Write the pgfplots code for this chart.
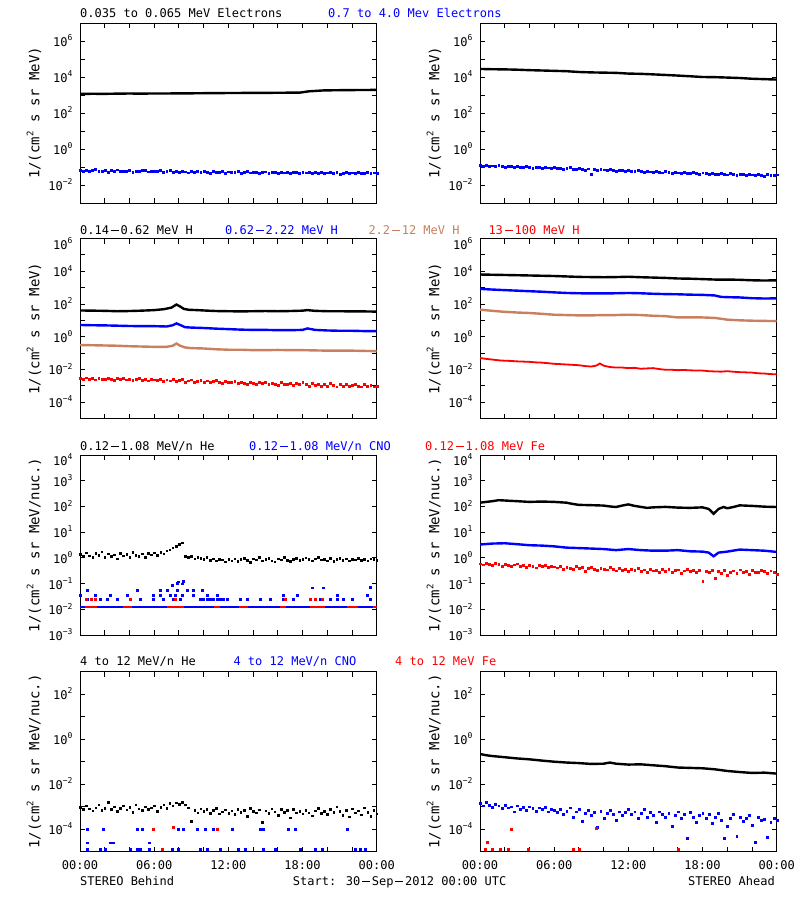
\documentclass[border=0pt]{standalone}
\usepackage{fontspec}
\setmainfont{DejaVu Sans Mono}
\setsansfont{DejaVu Sans Mono}
\usepackage{pgfplots}
\pgfplotsset{compat=1.18}
\definecolor{idlblue}{RGB}{0,0,255}
\definecolor{idlred}{RGB}{255,0,0}
\definecolor{idltan}{RGB}{200,128,96}
\newcommand\ttl{\fontsize{12}{14}\selectfont}
\newcommand\dash{\kern1.8pt\rule[3.6pt]{8pt}{0.9pt}\kern1.8pt}
\newcommand\EE[1]{10\raisebox{5.7pt}{\fontsize{8}{8}\selectfont #1}}
\newcommand\ET[1]{\raisebox{-5pt}{\EE{#1}}}
\newcommand\sq{\raisebox{6pt}{\fontsize{9}{9}\selectfont 2}}
\pgfplotsset{
  panel/.style={
    scale only axis, width=296.7pt, height=180pt, anchor=north west,
    xmin=0, xmax=24,
    axis line style={line width=0.9pt},
    xtick={0,2,...,24}, xticklabels={},
    tick align=inside, major tick length=5pt,
    tick style={line width=0.9pt, black},
    yminorticks=false, xminorticks=false,
    tick label style={font=\ttl},
    yticklabel style={anchor=base east, yshift=-5.5pt, xshift=-4pt},
    xticklabel style={anchor=base, yshift=-18.3pt},
    ylabel style={at={(axis description cs:-0.155,0.5)}, anchor=center, font=\fontsize{14}{16}\selectfont},
  },
  ln/.style={line width=2.4pt, mark=none},
  dots/.style={only marks, mark=square*, mark size=0.95pt, mark options={line width=0.1pt}},
  sdots/.style={only marks, mark=square*, mark size=0.8pt, mark options={line width=0.1pt}},
  table/q/.style={x expr=\coordindex*0.25, y index=0, header=false, row sep=\\},
}
\begin{document}
\begin{tikzpicture}
\useasboundingbox (0,0) rectangle (800pt,-900pt);

% ---------------- Row 1 left: STEREO Behind electrons
\begin{semilogyaxis}[panel, at={(80pt,-23pt)}, ymin=1e-3, ymax=1e7,
  ytick={1e-3,1e-2,1e-1,1,10,100,1e3,1e4,1e5,1e6,1e7},
  yticklabels={,\EE{−2},,\EE{0},,\EE{2},,\EE{4},,\EE{6},},
  ylabel={1/(cm\sq{} s sr MeV)}]
\addplot[ln, black] coordinates {(0,1150)(1,1170)(2,1160)(3,1190)(4,1210)(5,1190)(6,1220)(7,1210)(8,1240)(9,1240)(10,1260)(11,1270)(12,1290)(13,1300)(14,1310)(15,1320)(16,1330)(17,1350)(17.8,1360)(18.5,1600)(19.7,1800)(21,1850)(22,1880)(23,1900)(24,1920)};
\addplot[dots, idlblue] table[q] {
0.068\\0.062\\0.071\\0.058\\0.066\\0.074\\0.060\\0.063\\0.069\\0.055\\0.064\\0.061\\0.072\\0.057\\0.063\\0.059\\0.066\\0.052\\0.061\\0.058\\0.064\\0.070\\0.056\\0.060\\0.062\\
0.057\\0.065\\0.053\\0.060\\0.068\\0.055\\0.059\\0.051\\0.062\\0.056\\0.049\\0.058\\0.054\\0.061\\0.050\\0.057\\0.053\\0.048\\0.059\\0.055\\0.052\\0.060\\0.047\\0.056\\
0.054\\0.050\\0.057\\0.046\\0.053\\0.058\\0.049\\0.052\\0.055\\0.045\\0.051\\0.056\\0.048\\0.053\\0.050\\0.044\\0.054\\0.049\\0.052\\0.047\\0.055\\0.050\\0.046\\0.051\\
0.049\\0.053\\0.045\\0.050\\0.047\\0.055\\0.044\\0.049\\0.052\\0.046\\0.050\\0.043\\0.048\\0.053\\0.045\\0.049\\0.047\\0.051\\0.044\\0.048\\0.052\\0.046\\0.049\\0.047\\
};
\end{semilogyaxis}

% ---------------- Row 1 right: STEREO Ahead electrons
\begin{semilogyaxis}[panel, at={(480pt,-23pt)}, ymin=1e-3, ymax=1e7,
  ytick={1e-3,1e-2,1e-1,1,10,100,1e3,1e4,1e5,1e6,1e7},
  yticklabels={,\EE{−2},,\EE{0},,\EE{2},,\EE{4},,\EE{6},},
  ylabel={1/(cm\sq{} s sr MeV)}]
\addplot[ln, black] coordinates {(0,28000)(1,27000)(2,26500)(3,25500)(4,24000)(5,23000)(6,22000)(7,21000)(8,19000)(9,18000)(10,17500)(11,17000)(12,15500)(13,15000)(14,14000)(15,13000)(16,12000)(17,11000)(18,10000)(19,9800)(20,9300)(21,8800)(22,8000)(23,7600)(24,7200)};
\addplot[dots, idlblue] table[q] {
0.125\\0.118\\0.130\\0.112\\0.121\\0.108\\0.126\\0.115\\0.104\\0.119\\0.110\\0.098\\0.113\\0.105\\0.095\\0.109\\0.101\\0.092\\0.104\\0.097\\0.088\\0.100\\0.093\\0.085\\0.094\\
0.083\\0.091\\0.078\\0.086\\0.094\\0.080\\0.074\\0.085\\0.077\\0.071\\0.082\\0.040\\0.076\\0.069\\0.079\\0.072\\0.066\\0.075\\0.068\\0.063\\0.071\\0.065\\0.060\\0.068\\
0.062\\0.057\\0.066\\0.059\\0.054\\0.062\\0.056\\0.051\\0.059\\0.053\\0.049\\0.057\\0.051\\0.047\\0.054\\0.049\\0.045\\0.052\\0.048\\0.044\\0.050\\0.046\\0.042\\0.049\\
0.045\\0.041\\0.048\\0.043\\0.039\\0.046\\0.042\\0.038\\0.044\\0.040\\0.036\\0.043\\0.039\\0.035\\0.042\\0.038\\0.034\\0.041\\0.037\\0.033\\0.040\\0.036\\0.034\\0.038\\
};
\end{semilogyaxis}

% ---------------- Row 2 left: Behind protons
\begin{semilogyaxis}[panel, at={(80pt,-238.5pt)}, ymin=1e-5, ymax=1e6,
  ytick={1e-5,1e-4,1e-3,1e-2,1e-1,1,10,100,1e3,1e4,1e5,1e6},
  yticklabels={,\EE{−4},,\EE{−2},,\EE{0},,\EE{2},,\EE{4},,\ET{6}},
  ylabel={1/(cm\sq{} s sr MeV)}]
\addplot[ln, black] coordinates {(0,40)(1,39)(2,38)(3,36)(4,37)(5,39)(6,42)(6.8,48)(7.4,60)(7.8,92)(8.1,70)(8.4,50)(8.8,44)(9.5,42)(10,40)(11,37)(12,36)(13,35)(14,36)(15,37)(16,36)(17,37)(18,39)(18.4,42)(19,38)(20,36)(21,36)(22,35)(23,35)(24,34)};
\addplot[ln, idlblue] coordinates {(0,5.2)(1,5.0)(2,4.9)(3,4.7)(4,4.5)(5,4.4)(6,4.4)(7,4.2)(7.5,5.0)(7.8,6.5)(8.1,5.2)(8.5,3.8)(9,3.6)(10,3.4)(11,3.1)(12,2.9)(13,2.7)(14,2.6)(15,2.6)(16,2.5)(17,2.5)(18,2.6)(18.4,3.2)(19,2.6)(20,2.4)(21,2.3)(22,2.3)(23,2.2)(24,2.2)};
\addplot[ln, idltan] coordinates {(0,0.31)(1,0.30)(2,0.29)(3,0.28)(4,0.26)(5,0.25)(6,0.24)(7,0.24)(7.5,0.28)(7.8,0.38)(8.1,0.28)(8.5,0.22)(9,0.20)(10,0.19)(11,0.17)(12,0.16)(13,0.16)(14,0.15)(15,0.15)(16,0.155)(17,0.15)(18,0.15)(19,0.145)(20,0.14)(21,0.14)(22,0.14)(23,0.135)(24,0.13)};
\addplot[dots, idlred] table[q] {
0.0030\\0.0026\\0.0032\\0.0027\\0.0029\\0.0024\\0.0031\\0.0027\\0.0025\\0.0030\\0.0026\\0.0023\\0.0028\\0.0025\\0.0031\\0.0024\\0.0027\\0.0022\\0.0026\\0.0029\\0.0023\\0.0026\\0.0021\\0.0025\\0.0024\\
0.0022\\0.0026\\0.0020\\0.0024\\0.0021\\0.0025\\0.0019\\0.0023\\0.0026\\0.0018\\0.0021\\0.0024\\0.0017\\0.0020\\0.0023\\0.0018\\0.0021\\0.0016\\0.0019\\0.0022\\0.0017\\0.0015\\0.0019\\0.0017\\
0.0016\\0.0019\\0.0014\\0.0017\\0.0015\\0.0013\\0.0018\\0.0015\\0.0012\\0.0016\\0.0014\\0.0017\\0.0012\\0.0015\\0.0013\\0.0011\\0.0016\\0.0013\\0.0012\\0.0015\\0.0011\\0.0014\\0.0012\\0.0016\\
0.0012\\0.0010\\0.0014\\0.0011\\0.0013\\0.00095\\0.0012\\0.0010\\0.0014\\0.0011\\0.0009\\0.0013\\0.0010\\0.0012\\0.00095\\0.0011\\0.0013\\0.0010\\0.0009\\0.0012\\0.0010\\0.0011\\0.0009\\0.0010\\
};
\end{semilogyaxis}

% ---------------- Row 2 right: Ahead protons
\begin{semilogyaxis}[panel, at={(480pt,-238.5pt)}, ymin=1e-5, ymax=1e6,
  ytick={1e-5,1e-4,1e-3,1e-2,1e-1,1,10,100,1e3,1e4,1e5,1e6},
  yticklabels={,\EE{−4},,\EE{−2},,\EE{0},,\EE{2},,\EE{4},,\ET{6}},
  ylabel={1/(cm\sq{} s sr MeV)}]
\addplot[ln, black] coordinates {(0,6300)(1,6100)(2,5900)(3,5700)(4,5500)(5,5300)(6,5100)(7,4800)(8,4500)(9,4400)(10,4300)(11,4400)(12,4600)(13,4300)(14,4100)(15,3900)(16,3600)(17,3500)(18,3300)(19,3100)(20,3100)(21,3000)(22,2800)(23,2700)(24,2800)};
\addplot[ln, idlblue] coordinates {(0,830)(1,760)(2,700)(3,650)(4,600)(5,560)(6,510)(7,470)(8,450)(9,440)(10,440)(11,450)(12,470)(13,450)(14,420)(15,400)(16,390)(17,370)(18,360)(19,330)(19.5,270)(20,260)(21,250)(22,225)(23,215)(24,220)};
\addplot[ln, idltan] coordinates {(0,45)(1,38)(2,33)(3,30)(4,28)(5,25)(6,22)(7,21)(8,20)(9,20)(10,21)(11,21)(12,22)(13,21)(14,19)(15,18)(16,15)(17,15)(18,15)(19,14)(20,11)(21,10)(22,9.5)(23,9.2)(24,9)};
\addplot[line width=1.8pt, idlred] coordinates {(0,0.050)(0.5,0.044)(1,0.040)(1.5,0.036)(2,0.034)(2.5,0.033)(3,0.031)(3.5,0.030)(4,0.029)(4.5,0.027)(5,0.026)(5.5,0.024)(6,0.022)(6.5,0.021)(7,0.020)(7.5,0.019)(8,0.018)(8.5,0.016)(9,0.015)(9.4,0.017)(9.7,0.023)(10,0.017)(10.5,0.014)(11,0.013)(11.5,0.013)(12,0.012)(12.5,0.0125)(13,0.011)(13.5,0.0115)(14,0.012)(14.5,0.0105)(15,0.0095)(15.5,0.0095)(16,0.009)(16.5,0.0092)(17,0.0088)(17.5,0.0085)(18,0.0085)(18.5,0.0078)(19,0.0075)(19.5,0.0073)(20,0.0078)(20.5,0.0072)(21,0.0068)(21.5,0.0066)(22,0.0064)(22.5,0.0058)(23,0.0056)(23.5,0.0052)(24,0.0050)};
\end{semilogyaxis}

% ---------------- Row 3 left: Behind 0.12-1.08 MeV/n ions
\begin{semilogyaxis}[panel, at={(80pt,-455pt)}, ymin=1e-3, ymax=1e4,
  ytick={1e-3,1e-2,1e-1,1,10,100,1e3,1e4},
  yticklabels={\EE{−3},\EE{−2},\EE{−1},\EE{0},\EE{1},\EE{2},\EE{3},\ET{4}},
  ylabel={1/(cm\sq{} s sr MeV/nuc.)}]
\addplot[line width=2.6pt, idlblue] coordinates {(0,0.0123)(24,0.0123)};
\addplot[line width=2.6pt, idlred] coordinates {(0.4,0.0123)(1.35,0.0123)};
\addplot[line width=2.6pt, idlred] coordinates {(3.5,0.0123)(4.2,0.0123)};
\addplot[line width=2.6pt, idlred] coordinates {(7.0,0.0123)(8.4,0.0123)};
\addplot[line width=2.6pt, idlred] coordinates {(10.8,0.0123)(11.3,0.0123)};
\addplot[line width=2.6pt, idlred] coordinates {(12.9,0.0123)(13.6,0.0123)};
\addplot[line width=2.6pt, idlred] coordinates {(16.2,0.0123)(16.7,0.0123)};
\addplot[line width=2.6pt, idlred] coordinates {(18.6,0.0123)(19.8,0.0123)};
\addplot[line width=2.6pt, idlred] coordinates {(21.6,0.0123)(22.5,0.0123)};
\addplot[line width=2.6pt, idlred] coordinates {(23.7,0.0123)(24,0.0123)};
\addplot[dots, idlblue] coordinates {(0.54,0.026)(1.62,0.026)(2.16,0.026)(2.97,0.026)(4.04,0.026)(4.85,0.026)(5.93,0.026)(6.74,0.026)(7.55,0.026)(8.09,0.026)(9.71,0.026)(9.98,0.026)(10.25,0.026)(10.52,0.026)(10.79,0.026)(11.06,0.026)(11.33,0.026)(11.6,0.026)(11.87,0.026)(12.94,0.026)(13.49,0.026)(14.56,0.026)(15.37,0.026)(16.45,0.026)(17.26,0.026)(18.61,0.026)(19.42,0.026)(20.23,0.026)(20.77,0.026)(21.31,0.026)(21.98,0.026)(23.46,0.026)
(0,0.036)(1.21,0.036)(2.43,0.036)(3.78,0.036)(5.93,0.036)(6.47,0.036)(7.28,0.036)(7.69,0.036)(8.23,0.036)(9.17,0.036)(10.25,0.036)(11.06,0.036)(16.45,0.036)(17.53,0.036)(20.77,0.036)(23.19,0.036)
(0.54,0.055)(4.58,0.055)(6.47,0.055)(7.01,0.055)(7.82,0.055)(8.63,0.055)(9.17,0.055)(9.84,0.055)
(7.42,0.09)(7.82,0.105)(8.23,0.1)(7.96,0.12)(8.36,0.125)(18.74,0.07)(19.69,0.07)(23.46,0.072)};
\addplot[dots, idlred] coordinates {(0.5,0.026)(0.9,0.026)(1.2,0.026)(4.04,0.026)(7.69,0.026)(16.59,0.026)(18.61,0.026)(19.0,0.026)(19.55,0.026)};
\addplot[sdots, black] table[q] {
1.40\\1.15\\1.60\\1.25\\1.05\\1.50\\1.30\\1.75\\1.10\\1.45\\1.20\\1.35\\0.95\\1.55\\1.25\\1.40\\1.10\\1.65\\1.30\\1.20\\1.45\\1.05\\1.50\\1.35\\1.60\\
1.30\\1.70\\1.45\\1.90\\2.10\\2.50\\2.90\\3.40\\3.90\\1.20\\1.05\\1.15\\0.95\\1.10\\1.00\\0.88\\1.05\\0.82\\0.95\\0.78\\0.90\\0.85\\0.72\\0.92\\
0.80\\0.95\\0.75\\0.88\\1.00\\0.82\\0.70\\0.93\\0.85\\1.05\\0.78\\0.90\\0.98\\0.80\\0.72\\0.95\\0.86\\1.08\\0.82\\0.76\\0.92\\1.00\\0.84\\0.90\\
1.02\\0.88\\0.78\\0.95\\1.10\\0.85\\0.92\\0.80\\0.97\\0.75\\0.88\\1.00\\0.83\\0.95\\0.79\\0.90\\0.86\\0.98\\0.82\\0.92\\0.78\\0.95\\0.88\\0.84\\
};
\end{semilogyaxis}

% ---------------- Row 3 right: Ahead 0.12-1.08 MeV/n ions
\begin{semilogyaxis}[panel, at={(480pt,-455pt)}, ymin=1e-3, ymax=1e4,
  ytick={1e-3,1e-2,1e-1,1,10,100,1e3,1e4},
  yticklabels={\EE{−3},\EE{−2},\EE{−1},\EE{0},\EE{1},\EE{2},\EE{3},\ET{4}},
  ylabel={1/(cm\sq{} s sr MeV/nuc.)}]
\addplot[ln, black] coordinates {(0,140)(0.5,150)(1,160)(1.5,175)(2,170)(3,160)(4,150)(5,155)(6,150)(7,140)(7.5,125)(8,115)(9,112)(10,108)(10.5,100)(11,95)(11.5,108)(12,120)(12.5,105)(13.5,88)(14,92)(15,96)(16,90)(17,88)(18,92)(18.5,80)(18.9,52)(19.3,80)(19.7,95)(20,85)(20.5,95)(21,110)(22,105)(23,98)(24,95)};
\addplot[ln, idlblue] coordinates {(0,3.3)(1,3.6)(2,3.7)(3,3.4)(4,3.1)(5,3.0)(6,2.8)(7,2.5)(8,2.4)(9,2.3)(10,2.2)(11,2.0)(12,2.2)(13,2.0)(14,1.9)(15,1.9)(16,2.0)(17,1.8)(18,1.75)(18.5,1.6)(18.9,1.15)(19.3,1.6)(20,1.75)(21,2.1)(22,2.0)(23,1.9)(24,1.7)};
\addplot[dots, idlred] table[q] {
0.60\\0.55\\0.62\\0.57\\0.52\\0.63\\0.56\\0.50\\0.58\\0.53\\0.47\\0.55\\0.60\\0.49\\0.52\\0.45\\0.54\\0.50\\0.42\\0.51\\0.47\\0.53\\0.44\\0.49\\0.46\\
0.42\\0.50\\0.38\\0.45\\0.41\\0.36\\0.47\\0.40\\0.43\\0.30\\0.39\\0.44\\0.37\\0.33\\0.41\\0.38\\0.35\\0.43\\0.36\\0.32\\0.40\\0.34\\0.37\\0.31\\
0.36\\0.33\\0.39\\0.30\\0.35\\0.28\\0.37\\0.32\\0.34\\0.27\\0.36\\0.31\\0.38\\0.29\\0.33\\0.35\\0.26\\0.32\\0.37\\0.30\\0.34\\0.28\\0.33\\0.13\\
0.31\\0.27\\0.34\\0.17\\0.30\\0.25\\0.33\\0.22\\0.29\\0.32\\0.26\\0.35\\0.28\\0.31\\0.24\\0.33\\0.29\\0.27\\0.34\\0.30\\0.25\\0.32\\0.28\\0.23\\
};
\end{semilogyaxis}

% ---------------- Row 4 left: Behind 4-12 MeV/n ions
\begin{semilogyaxis}[panel, at={(80pt,-671.5pt)}, ymin=1e-5, ymax=1e3,
  ytick={1e-5,1e-4,1e-3,1e-2,1e-1,1,10,100,1e3},
  yticklabels={,\EE{−4},,\EE{−2},,\EE{0},,\EE{2},},
  xticklabels={00:00,,,06:00,,,12:00,,,18:00,,,00:00},
  ylabel={1/(cm\sq{} s sr MeV/nuc.)}]
\addplot[dots, idlblue] coordinates {(0.54,1e-4)(1.89,1e-4)(4.58,1e-4)(4.99,1e-4)(7.96,1e-4)(8.36,1e-4)(9.44,1e-4)(10.11,1e-4)(10.79,1e-4)(12.27,1e-4)(14.56,1e-4)(14.8,1e-4)(16.86,1e-4)(17.40,1e-4)(21.58,1e-4)
(0.54,2.5e-5)(2.43,2.5e-5)(2.70,2.5e-5)(5.58,2.5e-5)
(0.59,1.3e-5)(1.62,1.3e-5)(2.02,1.3e-5)(4.05,1.3e-5)(4.58,1.3e-5)(4.85,1.3e-5)(5.58,1.3e-5)(7.42,1.3e-5)(7.96,1.3e-5)(9.71,1.3e-5)(10.25,1.3e-5)(11.33,1.3e-5)(12.81,1.3e-5)(13.35,1.3e-5)(14.83,1.3e-5)(15.78,1.3e-5)(17.80,1.3e-5)(19.01,1.3e-5)(19.55,1.3e-5)(22.25,1.3e-5)(22.65,1.3e-5)(23.06,1.3e-5)};
\addplot[dots, idlred] coordinates {(7.55,1.2e-4)(5.93,1e-4)(11.06,1e-4)(6.66,1.3e-5)};
\addplot[sdots, black] table[q] {
9.5e-4\\7.8e-4\\1.1e-3\\8.2e-4\\6.5e-4\\9.0e-4\\1.2e-3\\7.0e-4\\8.8e-4\\1.6e-3\\7.5e-4\\9.8e-4\\6.2e-4\\8.5e-4\\1.1e-3\\7.2e-4\\9.3e-4\\5.8e-4\\1.2e-3\\8.0e-4\\6.8e-4\\1.0e-3\\7.6e-4\\9.0e-4\\1.1e-3\\
6.4e-4\\9.5e-4\\1.2e-3\\8.3e-4\\1.4e-3\\1.1e-3\\1.5e-3\\1.3e-3\\1.6e-3\\1.2e-3\\9.0e-4\\2.2e-4\\7.0e-4\\5.5e-4\\8.2e-4\\6.3e-4\\7.6e-4\\5.0e-4\\6.8e-4\\8.5e-4\\4.8e-4\\6.0e-4\\7.3e-4\\5.2e-4\\
6.6e-4\\4.5e-4\\7.8e-4\\5.8e-4\\6.9e-4\\3.8e-4\\8.8e-4\\6.2e-4\\5.3e-4\\7.2e-4\\2.1e-4\\6.5e-4\\5.0e-4\\8.0e-4\\6.0e-4\\4.3e-4\\7.5e-4\\5.6e-4\\6.8e-4\\3.2e-4\\7.9e-4\\5.4e-4\\6.4e-4\\4.9e-4\\
7.1e-4\\5.5e-4\\3.9e-4\\6.7e-4\\8.3e-4\\5.1e-4\\6.2e-4\\4.6e-4\\7.5e-4\\5.8e-4\\1.0e-3\\6.4e-4\\4.2e-4\\7.0e-4\\3.6e-4\\8.1e-4\\5.3e-4\\6.6e-4\\4.4e-4\\9.0e-4\\5.7e-4\\3.8e-4\\6.9e-4\\4.8e-4\\
};
\end{semilogyaxis}

% ---------------- Row 4 right: Ahead 4-12 MeV/n ions
\begin{semilogyaxis}[panel, at={(480pt,-671.5pt)}, ymin=1e-5, ymax=1e3,
  ytick={1e-5,1e-4,1e-3,1e-2,1e-1,1,10,100,1e3},
  yticklabels={,\EE{−4},,\EE{−2},,\EE{0},,\EE{2},},
  xticklabels={00:00,,,06:00,,,12:00,,,18:00,,,00:00},
  ylabel={1/(cm\sq{} s sr MeV/nuc.)}]
\addplot[ln, black] coordinates {(0,0.215)(0.5,0.19)(1,0.175)(2,0.155)(3,0.137)(4,0.125)(5,0.11)(6,0.098)(7,0.09)(8,0.085)(9,0.078)(10,0.08)(10.5,0.09)(11,0.08)(12,0.073)(13,0.075)(14,0.068)(15,0.062)(16,0.054)(17,0.052)(18,0.05)(19,0.045)(20,0.038)(21,0.034)(22,0.031)(23,0.032)(24,0.029)};
\addplot[dots, idlblue] table[q] {
1.4e-3\\1.1e-3\\1.6e-3\\1.2e-3\\9.5e-4\\1.3e-3\\1.1e-3\\8.5e-4\\1.2e-3\\9.0e-4\\1.0e-3\\6.0e-4\\1.1e-3\\8.0e-4\\9.5e-4\\7.0e-4\\1.0e-3\\8.5e-4\\6.5e-4\\9.0e-4\\7.5e-4\\9.5e-4\\6.0e-4\\8.0e-4\\7.0e-4\\
5.5e-4\\8.0e-4\\4.5e-4\\6.5e-4\\9.0e-4\\3.5e-4\\6.0e-4\\7.5e-4\\2.2e-4\\5.0e-4\\7.0e-4\\4.0e-4\\5.5e-4\\1.2e-4\\6.5e-4\\3.0e-4\\5.0e-4\\7.0e-4\\4.5e-4\\2.5e-4\\6.0e-4\\4.0e-4\\5.5e-4\\7.5e-4\\
4.5e-4\\6.0e-4\\3.0e-4\\5.0e-4\\8.0e-4\\3.5e-4\\5.5e-4\\4.0e-4\\2.0e-4\\6.0e-4\\4.5e-4\\3.5e-4\\5.0e-4\\1.4e-4\\4.0e-4\\6.0e-4\\3.0e-4\\4.5e-4\\4.0e-5\\5.5e-4\\3.5e-4\\2.0e-4\\4.0e-4\\5.0e-4\\
3.0e-4\\4.5e-4\\1.8e-4\\3.5e-4\\5.0e-4\\2.5e-4\\4.0e-5\\1.3e-4\\3.0e-4\\4.5e-4\\5.0e-5\\3.5e-4\\2.2e-4\\3.0e-4\\4.0e-4\\1.5e-4\\2.6e-5\\3.5e-4\\2.5e-4\\2.8e-4\\4.3e-5\\2.0e-4\\3.0e-4\\2.5e-4\\
};
\addplot[dots, idlred] coordinates {(0.40,1.3e-5)(0.94,1.3e-5)(1.62,1.3e-5)(2.29,1.3e-5)(3.91,1.3e-5)(7.50,1.3e-5)(8.01,1.3e-5)(16.05,1.3e-5)(0.54,2.6e-5)(2.48,1.0e-4)(9.39,1.1e-4)};
\end{semilogyaxis}

% ---------------- Titles
\begin{scope}[every node/.style={anchor=base west, font=\ttl, inner sep=0pt}]
\node[black] at (80pt,-17.7pt) {0.035 to 0.065 MeV Electrons};
\node[idlblue] at (328pt,-17.7pt) {0.7 to 4.0 Mev Electrons};
\node[black] at (80pt,-234.3pt) {0.14\dash 0.62 MeV H};
\node[idlblue] at (225pt,-234.3pt) {0.62\dash 2.22 MeV H};
\node[idltan] at (368.3pt,-234.3pt) {2.2\dash 12 MeV H};
\node[idlred] at (488.3pt,-234.3pt) {13\dash 100 MeV H};
\node[black] at (80pt,-450pt) {0.12\dash 1.08 MeV/n He};
\node[idlblue] at (249pt,-450pt) {0.12\dash 1.08 MeV/n CNO};
\node[idlred] at (425pt,-450pt) {0.12\dash 1.08 MeV Fe};
\node[black] at (80pt,-665.7pt) {4 to 12 MeV/n He};
\node[idlblue] at (233.3pt,-665.7pt) {4 to 12 MeV/n CNO};
\node[idlred] at (395pt,-665.7pt) {4 to 12 MeV Fe};
\node[black] at (80pt,-885.7pt) {STEREO Behind};
\node[black] at (292.7pt,-885.7pt) {Start: 30\dash Sep\dash 2012 00:00 UTC};
\node[black, anchor=base east] at (775pt,-885.7pt) {STEREO Ahead};
\end{scope}
\end{tikzpicture}
\end{document}
